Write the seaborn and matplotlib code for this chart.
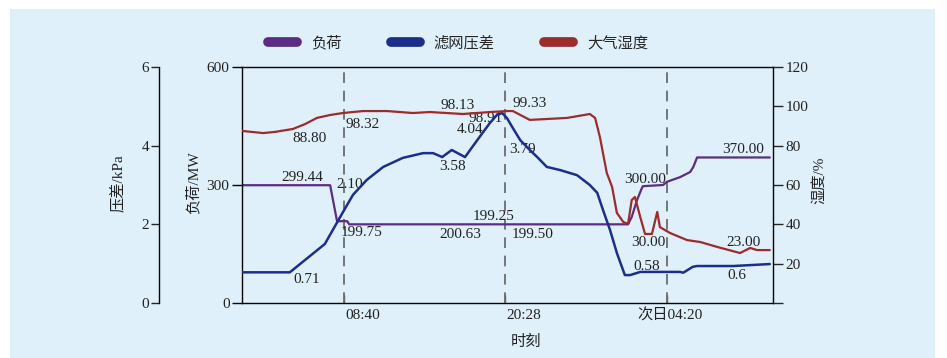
import matplotlib
matplotlib.use("Agg")
import matplotlib.pyplot as plt
import matplotlib.transforms as mtrans
from matplotlib.patches import Rectangle
from matplotlib.lines import Line2D
import seaborn as sns
import pandas as pd

# ---------------- data ----------------
# x is a relative position along the time axis (0..100)
tick_pos = [19.3, 49.6, 80.0]
tick_labels = ["08:40", "20:28", "次日04:20"]

load_x = [0, 16.6, 17.9, 19.8, 20.2, 72.7, 73.4, 74.4, 75.3, 75.5, 79.3, 80.0, 82.5, 84.4, 85.0, 85.7, 99.4]
load_v = [299.44, 299.44, 208, 208, 200, 200, 219, 262, 292, 297, 300, 308, 320, 333, 346, 370, 370]

dp_x = [0, 9.0, 15.6, 18.5, 20.9, 23.5, 26.6, 30.3, 34.1, 36.0, 37.7, 39.5, 42.0, 44.3, 46.7, 48.0,
        49.0, 49.9, 51.0, 52.4, 54.2, 55.6, 57.4, 59.9, 63.1, 65.5, 66.9, 68.0, 69.3, 70.6, 72.1,
        73.1, 75.0, 82.5, 83.1, 84.9, 85.7, 92.5, 99.4]
dp_v = [0.78, 0.78, 1.50, 2.19, 2.75, 3.13, 3.46, 3.69, 3.81, 3.81, 3.71, 3.89, 3.71, 4.14, 4.58, 4.78,
        4.83, 4.70, 4.45, 4.14, 3.89, 3.71, 3.46, 3.38, 3.25, 3.00, 2.80, 2.36, 1.86, 1.27, 0.71,
        0.71, 0.79, 0.79, 0.77, 0.92, 0.94, 0.94, 0.99]

hum_x = [0, 4.0, 6.2, 9.6, 11.9, 14.1, 16.6, 19.0, 22.8, 27.3, 32.2, 35.4, 41.6, 46.7, 49.9, 51.0,
         54.2, 61.2, 65.5, 66.5, 67.4, 68.7, 69.7, 70.6, 71.8, 72.7, 73.4, 74.0, 75.0, 75.9, 77.2,
         78.2, 78.7, 80.6, 83.8, 86.3, 89.5, 93.8, 95.7, 97.0, 99.4]
hum_v = [87.5, 86.4, 87.0, 88.5, 91.0, 94.1, 95.6, 96.6, 97.6, 97.6, 96.6, 97.1, 96.1, 97.1, 97.6, 97.6,
         93.1, 94.1, 96.1, 94.1, 84.4, 66.1, 59.0, 45.8, 41.2, 40.2, 52.4, 53.9, 43.7, 35.1, 35.1,
         46.3, 38.6, 35.6, 32.0, 31.0, 28.5, 25.4, 28.0, 26.9, 26.9]

annot_text = ["88.80", "98.32", "98.13", "98.91", "4.04", "3.58", "299.44", "2.10", "199.75",
              "200.63", "199.25", "0.71", "99.33", "3.79", "199.50", "300.00", "370.00",
              "30.00", "23.00", "0.58", "0.6"]
# label placements (x position, y in load-axis units)
annot_xy = [(12.8, 417), (22.8, 455), (40.7, 503), (45.8, 468), (42.9, 440), (39.7, 348),
            (11.3, 318), (20.2, 300), (22.6, 178), (41.1, 173), (47.3, 219), (12.2, 61),
            (54.2, 508), (52.9, 389), (54.8, 175), (75.9, 313), (94.4, 391), (76.5, 153),
            (94.4, 155), (76.3, 92), (93.2, 71)]

series_names = ["负荷", "滤网压差", "大气湿度"]
c_load, c_dp, c_hum = "#5b2c83", "#1c2e8c", "#9e2a2b"

# ---------------- style ----------------
sns.set_theme(style="ticks")
plt.rcParams["font.family"] = ["Liberation Serif", "Noto Sans CJK SC", "DejaVu Sans"]
plt.rcParams["font.size"] = 11
plt.rcParams["axes.unicode_minus"] = False
txt_color = "#222222"

W, H = 947, 358
fig = plt.figure(figsize=(W / 100, H / 100), dpi=100)
fig.patch.set_facecolor("white")
fig.patches.append(Rectangle((10 / W, 0), (935 - 10) / W, (H - 9) / H, transform=fig.transFigure,
                             facecolor="#dff0fa", edgecolor="none", zorder=-10))

ax = fig.add_axes([242 / W, (H - 303) / H, 531 / W, 236 / H])
ax.set_facecolor("none")
axp = ax.twinx()
axh = ax.twinx()

df_load = pd.DataFrame({"x": load_x, "v": load_v})
df_dp = pd.DataFrame({"x": dp_x, "v": dp_v})
df_hum = pd.DataFrame({"x": hum_x, "v": hum_v})

sns.lineplot(data=df_hum, x="x", y="v", ax=axh, color=c_hum, lw=1.6)
sns.lineplot(data=df_dp, x="x", y="v", ax=axp, color=c_dp, lw=1.8)
sns.lineplot(data=df_load, x="x", y="v", ax=ax, color=c_load, lw=1.6)

for t in tick_pos:
    ax.axvline(t, color="#555555", lw=1.1, linestyle=(0, (7, 5)), zorder=0)

# main (load) axis
ax.set_xlim(0, 100)
ax.set_ylim(0, 600)
ax.set_yticks([0, 300, 600])
ax.set_xticks(tick_pos)
ax.set_xticklabels(tick_labels)
ax.tick_params(axis="y", direction="out", length=7, width=1, pad=2, colors="black", labelcolor=txt_color,
               labelsize=11)
ax.tick_params(axis="x", direction="in", length=6, width=1, color="#666666", pad=4, labelcolor=txt_color,
               labelsize=11)
offset = mtrans.ScaledTranslation(35.5 / 100, 0, fig.dpi_scale_trans)
for lab in ax.get_xticklabels():
    lab.set_ha("right")
    lab.set_transform(lab.get_transform() + offset)
for s in ax.spines.values():
    s.set_color("black")
    s.set_linewidth(1.0)
ax.spines["right"].set_visible(False)

# pressure axis (outer left), 83 px to the left of the load axis
axp.set_ylim(0, 6)
axp.set_yticks([0, 2, 4, 6])
axp.yaxis.set_ticks_position("left")
axp.yaxis.set_label_position("left")
axp.spines["left"].set_position(("outward", 83 * 0.72))
axp.spines["left"].set_visible(True)
for k in ["right", "top", "bottom"]:
    axp.spines[k].set_visible(False)
axp.spines["left"].set_color("black")
axp.spines["left"].set_linewidth(1.0)
axp.tick_params(axis="y", direction="out", length=6, width=1, pad=1, labelcolor=txt_color, labelsize=11)

# humidity axis (right)
axh.set_ylim(0, 120)
axh.set_yticks([0, 20, 40, 60, 80, 100, 120])
axh.set_yticklabels(["", "20", "40", "60", "80", "100", "120"])
for k in ["left", "top", "bottom"]:
    axh.spines[k].set_visible(False)
axh.spines["right"].set_color("black")
axh.spines["right"].set_linewidth(1.0)
axh.tick_params(axis="y", direction="out", length=7, width=1, pad=2, labelcolor=txt_color, labelsize=11)

# labels
ax.set_xlabel("时刻", fontsize=11, color=txt_color)
ax.set_ylabel("负荷/MW", fontsize=11, color=txt_color)
axp.set_ylabel("压差/kPa", fontsize=11, color=txt_color)
axh.set_ylabel("湿度/%", fontsize=11, color=txt_color)
axp.set_xlabel("")
axh.set_xlabel("")
ax.xaxis.set_label_coords((526 - 242) / 531, (303 - 342) / 236)
ax.yaxis.set_label_coords((193 - 242) / 531, (303 - 183) / 236)
axp.yaxis.set_label_coords((118 - 242) / 531, (303 - 183) / 236)
axh.yaxis.set_label_coords((819 - 242) / 531, (303 - 180) / 236)
for lab in [ax.xaxis.label, ax.yaxis.label, axp.yaxis.label, axh.yaxis.label]:
    lab.set_va("center")
    lab.set_ha("center")

# annotations
for s, (x, y) in zip(annot_text, annot_xy):
    ax.text(x, y, s, ha="center", va="center", fontsize=11, color=txt_color, zorder=5)

# legend
handles = [Line2D([], [], color=c, lw=7, solid_capstyle="round") for c in [c_load, c_dp, c_hum]]
fig.legend(handles, series_names, loc="center", bbox_to_anchor=(458 / W, 1 - 43 / H), ncol=3,
           frameon=False, handlelength=1.9, handletextpad=0.9, columnspacing=3.25, fontsize=11)

fig.savefig("out.png", dpi=100)
